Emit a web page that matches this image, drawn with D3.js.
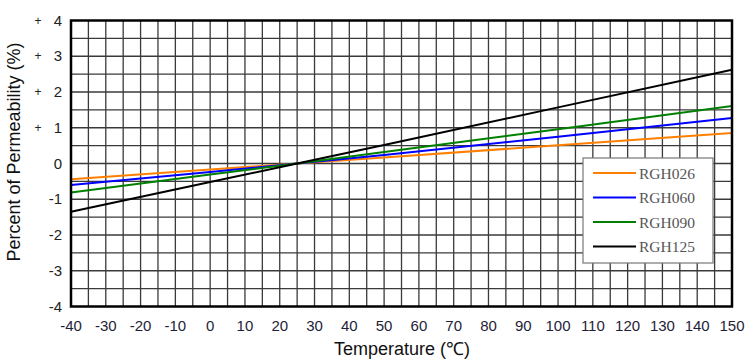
<!DOCTYPE html>
<html>
<head>
<meta charset="utf-8">
<script src="https://cdn.jsdelivr.net/npm/d3@7"></script>
<style>
  body { margin: 0; background: #fff; }
  text { font-family: Arial, "Liberation Sans", sans-serif; }
  text.lgtext { font-family: "Liberation Serif", "DejaVu Serif", serif; }
</style>
</head>
<body>
<div class="chart"></div>
<script>
// temperatures (℃)
const temps = [-40, 0, 25, 50, 100, 150];

const rgh026 = [-0.44, -0.17, 0, 0.17, 0.51, 0.85];
const rgh060 = [-0.60, -0.24, 0, 0.24, 0.75, 1.27];
const rgh090 = [-0.81, -0.31, 0, 0.32, 0.96, 1.61];
const rgh125 = [-1.35, -0.52, 0, 0.52, 1.57, 2.62];

const seriesNames = ['RGH026', 'RGH060', 'RGH090', 'RGH125'];
const seriesColors = ['#ff8000', '#0000ff', '#008000', '#000000'];
const seriesValues = [rgh026, rgh060, rgh090, rgh125];

const xTicks = d3.range(-40, 151, 10);
const yTicks = [-4, -3, -2, -1, 0, 1, 2, 3, 4];

const width = 752, height = 362;
const margin = { left: 71, right: 20, top: 20.5, bottom: 55.5 };

const svg = d3.select('.chart').append('svg')
  .attr('width', width)
  .attr('height', height);

const x = d3.scaleLinear()
  .domain([-40, 150])
  .range([margin.left, width - margin.right]);
const y = d3.scaleLinear()
  .domain([-4, 4])
  .range([height - margin.bottom, margin.top]);

// grid
const grid = svg.append('g').attr('stroke', '#3a3a3a').attr('stroke-width', 1.3);
grid.selectAll('.vg')
  .data(d3.range(-35, 150, 5))
  .enter().append('line')
  .attr('x1', d => x(d)).attr('x2', d => x(d))
  .attr('y1', y(-4)).attr('y2', y(4));
grid.selectAll('.hg')
  .data(d3.range(-3.5, 4, 0.5))
  .enter().append('line')
  .attr('x1', x(-40)).attr('x2', x(150))
  .attr('y1', d => y(d)).attr('y2', d => y(d));

// series
const line = d3.line()
  .x((d, i) => x(temps[i]))
  .y(d => y(d));

svg.selectAll('.series')
  .data(seriesValues)
  .enter().append('path')
  .attr('class', 'series')
  .attr('fill', 'none')
  .attr('stroke', (d, i) => seriesColors[i])
  .attr('stroke-width', 2)
  .attr('d', line);

// frame
svg.append('rect')
  .attr('x', x(-40)).attr('y', y(4))
  .attr('width', x(150) - x(-40))
  .attr('height', y(-4) - y(4))
  .attr('fill', 'none')
  .attr('stroke', '#000')
  .attr('stroke-width', 2.5);

// x tick labels
svg.selectAll('.xl')
  .data(xTicks)
  .enter().append('text')
  .attr('x', d => x(d))
  .attr('y', y(-4) + 24)
  .attr('text-anchor', 'middle')
  .attr('font-size', 15)
  .attr('fill', '#1e1e38')
  .text(d => d);

// y tick labels
svg.selectAll('.yl')
  .data(yTicks)
  .enter().append('text')
  .attr('x', 62)
  .attr('y', d => y(d) + 5)
  .attr('text-anchor', 'end')
  .attr('font-size', 15)
  .attr('fill', '#222')
  .text(d => Math.abs(d) === d ? d : '-' + Math.abs(d));

svg.selectAll('.ys')
  .data(yTicks.filter(d => d > 0))
  .enter().append('text')
  .attr('x', 38)
  .attr('y', d => y(d) + 4)
  .attr('text-anchor', 'middle')
  .attr('font-size', 12)
  .attr('fill', '#222')
  .text('+');

// axis titles
svg.append('text')
  .attr('x', 402).attr('y', 355)
  .attr('text-anchor', 'middle')
  .attr('font-size', 18)
  .attr('fill', '#111')
  .text('Temperature (℃)');

svg.append('text')
  .attr('transform', 'translate(20,' + 152 + ') rotate(-90)')
  .attr('text-anchor', 'middle')
  .attr('font-size', 18)
  .attr('fill', '#111')
  .text('Percent of Permeability (%)');

// legend
const lg = svg.append('g').attr('transform', 'translate(583,158)');
lg.append('rect')
  .attr('width', 130).attr('height', 105)
  .attr('fill', '#fff')
  .attr('stroke', '#777')
  .attr('stroke-width', 1.2);

const item = lg.selectAll('.item')
  .data(seriesNames)
  .enter().append('g')
  .attr('transform', (d, i) => 'translate(0,' + (15 + i * 24.5) + ')');
item.append('line')
  .attr('x1', 10).attr('x2', 53)
  .attr('stroke', (d, i) => seriesColors[i])
  .attr('stroke-width', 2);
item.append('text')
  .attr('class', 'lgtext')
  .attr('x', 56).attr('y', 5.5)
  .attr('font-size', 15.5)
  .attr('fill', '#555')
  .text(d => d);
</script>
</body>
</html>
